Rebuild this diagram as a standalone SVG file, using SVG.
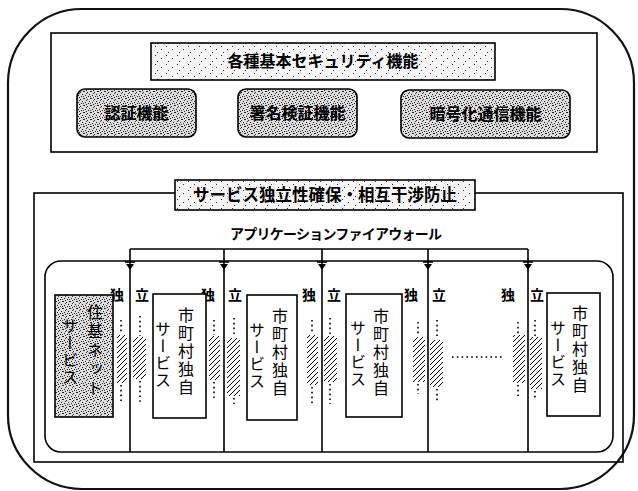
<svg xmlns="http://www.w3.org/2000/svg" width="638" height="491" viewBox="0 0 638 491">
<style>
.ln{stroke:#000;stroke-width:1.6}
.thick{fill:none;stroke:#111;stroke-width:2.2}
.jp{font-family:"Noto Sans CJK JP","Noto Sans CJK SC",sans-serif;fill:#000}
.t16{font-size:16px}
.t14{font-size:14px}
.b{font-weight:700}
.vt{writing-mode:vertical-rl;font-size:16px}
.dot{fill:none;stroke:#000;stroke-width:1.6;stroke-dasharray:1.6 3.2}
.hatch{fill:url(#hatch);stroke:none}
</style>
<defs>
<pattern id="stipDense" width="7" height="7" patternUnits="userSpaceOnUse">
<rect width="7" height="7" fill="#dcdcdc"/>
<rect x="0" y="0" width="1" height="1" fill="#222"/>
<rect x="3" y="1" width="1" height="1" fill="#222"/>
<rect x="5" y="3" width="1" height="1" fill="#222"/>
<rect x="1" y="4" width="1" height="1" fill="#222"/>
<rect x="4" y="5" width="1" height="1" fill="#222"/>
<rect x="2" y="6" width="1" height="1" fill="#222"/>
<rect x="6" y="0" width="1" height="1" fill="#222"/>
<rect x="2" y="2" width="1" height="1" fill="#444"/>
<rect x="6" y="5" width="1" height="1" fill="#444"/>
</pattern>
<pattern id="stipLight" width="11" height="9" patternUnits="userSpaceOnUse">
<rect width="11" height="9" fill="#f5f5f5"/>
<rect x="1" y="1" width="1" height="1" fill="#333"/>
<rect x="7" y="4" width="1" height="1" fill="#333"/>
<rect x="3" y="7" width="1" height="1" fill="#333"/>
</pattern>
<pattern id="hatch" width="5" height="5" patternUnits="userSpaceOnUse">
<rect width="5" height="5" fill="#fff"/>
<path d="M-1,1 L1,-1 M0,5 L5,0 M4,6 L6,4" stroke="#000" stroke-width="1"/>
</pattern>
<g id="fw">
<path d="M-5,1 H5" stroke="#000" stroke-width="1.6"/>
<path d="M-4,3 H4 L0,9 Z" fill="#000"/>
</g>
</defs>
<rect width="638" height="491" fill="#fff"/>

<!-- outer frame -->
<rect x="8" y="9" width="626" height="480" rx="74" class="thick"/>

<!-- security functions section -->
<g id="security">
<rect x="51" y="33" width="546" height="119" fill="none" class="ln"/>
<g id="sec-title">
<rect x="151" y="43" width="344" height="37" fill="url(#stipLight)" class="ln"/>
<text x="323" y="67" text-anchor="middle" class="jp t16 b">各種基本セキュリティ機能</text>
</g>
<g id="auth">
<rect x="77" y="89" width="119" height="48" rx="8" fill="url(#stipDense)" class="ln"/>
<text x="136.5" y="119" text-anchor="middle" class="jp t16 b">認証機能</text>
</g>
<g id="sign">
<rect x="238" y="89" width="119" height="48" rx="8" fill="url(#stipDense)" class="ln"/>
<text x="297.5" y="119" text-anchor="middle" class="jp t16 b">署名検証機能</text>
</g>
<g id="crypto">
<rect x="401" y="90" width="169" height="48" rx="8" fill="url(#stipDense)" class="ln"/>
<text x="485.5" y="120" text-anchor="middle" class="jp t16 b">暗号化通信機能</text>
</g>
</g>

<!-- service isolation section -->
<g id="isolation">
<rect x="34" y="193" width="589" height="269" fill="none" class="ln"/>
<g id="iso-title">
<rect x="175" y="180" width="300" height="30" fill="url(#stipLight)" class="ln"/>
<text x="325" y="201" text-anchor="middle" class="jp b" font-size="16.5">サービス独立性確保・相互干渉防止</text>
</g>
<text id="appfw" x="336" y="239" text-anchor="middle" class="jp t14 b" textLength="212">アプリケーションファイアウォール</text>
<rect x="45" y="261" width="568" height="191" rx="16" fill="none" class="ln"/>
</g>

<!-- connectors: firewall bus and partitions -->
<g id="connectors">
<path d="M130,249 H528" fill="none" class="ln"/>
<path d="M130,249 V452 M224,249 V452 M322,249 V452 M428,249 V452 M528,249 V452" fill="none" class="ln"/>
<use href="#fw" x="130" y="261"/>
<use href="#fw" x="224" y="261"/>
<use href="#fw" x="322" y="261"/>
<use href="#fw" x="428" y="261"/>
<use href="#fw" x="528" y="261"/>
<!-- isolation strips -->
<rect x="117" y="335" width="10" height="48" class="hatch"/>
<rect x="133" y="337" width="13" height="42" class="hatch"/>
<rect x="209" y="336" width="11" height="44" class="hatch"/>
<rect x="227" y="338" width="13" height="58" class="hatch"/>
<rect x="307" y="335" width="11" height="50" class="hatch"/>
<rect x="324" y="336" width="13" height="46" class="hatch"/>
<rect x="413" y="337" width="12" height="45" class="hatch"/>
<rect x="430" y="340" width="13" height="47" class="hatch"/>
<rect x="513" y="335" width="12" height="48" class="hatch"/>
<rect x="530" y="337" width="12" height="52" class="hatch"/>
<path d="M121,320 V334 M121,385 V404 M140,316 V336 M140,381 V404
M214,320 V335 M214,382 V400 M234,318 V337 M234,398 V404
M312,320 V334 M312,387 V404 M330,318 V335 M330,384 V404
M418,322 V336 M418,384 V394 M437,320 V339 M437,389 V402
M518,322 V334 M518,385 V396 M535,320 V336 M535,391 V400" class="dot"/>
<path d="M452,357 H504" class="dot"/>
</g>

<!-- independence labels -->
<g id="labels" class="jp t14 b">
<text x="117" y="300" text-anchor="middle">独</text><text x="142" y="300" text-anchor="middle">立</text>
<text x="208" y="300" text-anchor="middle">独</text><text x="235" y="300" text-anchor="middle">立</text>
<text x="309" y="300" text-anchor="middle">独</text><text x="334" y="300" text-anchor="middle">立</text>
<text x="411" y="300" text-anchor="middle">独</text><text x="439" y="300" text-anchor="middle">立</text>
<text x="508" y="300" text-anchor="middle">独</text><text x="537" y="300" text-anchor="middle">立</text>
</g>

<!-- services -->
<g id="juki">
<rect x="55" y="295" width="58" height="122" fill="url(#stipDense)" class="ln"/>
<text x="95" y="304" class="jp vt" font-size="17" letter-spacing="3">住基ネット</text>
<text x="70" y="318" class="jp vt" font-size="17" letter-spacing="1">サービス</text>
</g>
<g id="svc1">
<rect x="153" y="294" width="53" height="124" fill="#fff" class="ln"/>
<text x="186" y="307" class="jp vt" letter-spacing="2">市町村独自</text>
<text x="163" y="321" class="jp vt" letter-spacing="1">サービス</text>
</g>
<g id="svc2">
<rect x="247" y="295" width="50" height="125" fill="#fff" class="ln"/>
<text x="280" y="308" class="jp vt" letter-spacing="2">市町村独自</text>
<text x="257" y="322" class="jp vt" letter-spacing="1">サービス</text>
</g>
<g id="svc3">
<rect x="346" y="294" width="56" height="123" fill="#fff" class="ln"/>
<text x="381" y="308" class="jp vt" letter-spacing="2">市町村独自</text>
<text x="358" y="320" class="jp vt" letter-spacing="1">サービス</text>
</g>
<g id="svc4">
<rect x="547" y="293" width="53" height="123" fill="#fff" class="ln"/>
<text x="580" y="305" class="jp vt" letter-spacing="2">市町村独自</text>
<text x="558" y="320" class="jp vt" letter-spacing="1">サービス</text>
</g>
</svg>
